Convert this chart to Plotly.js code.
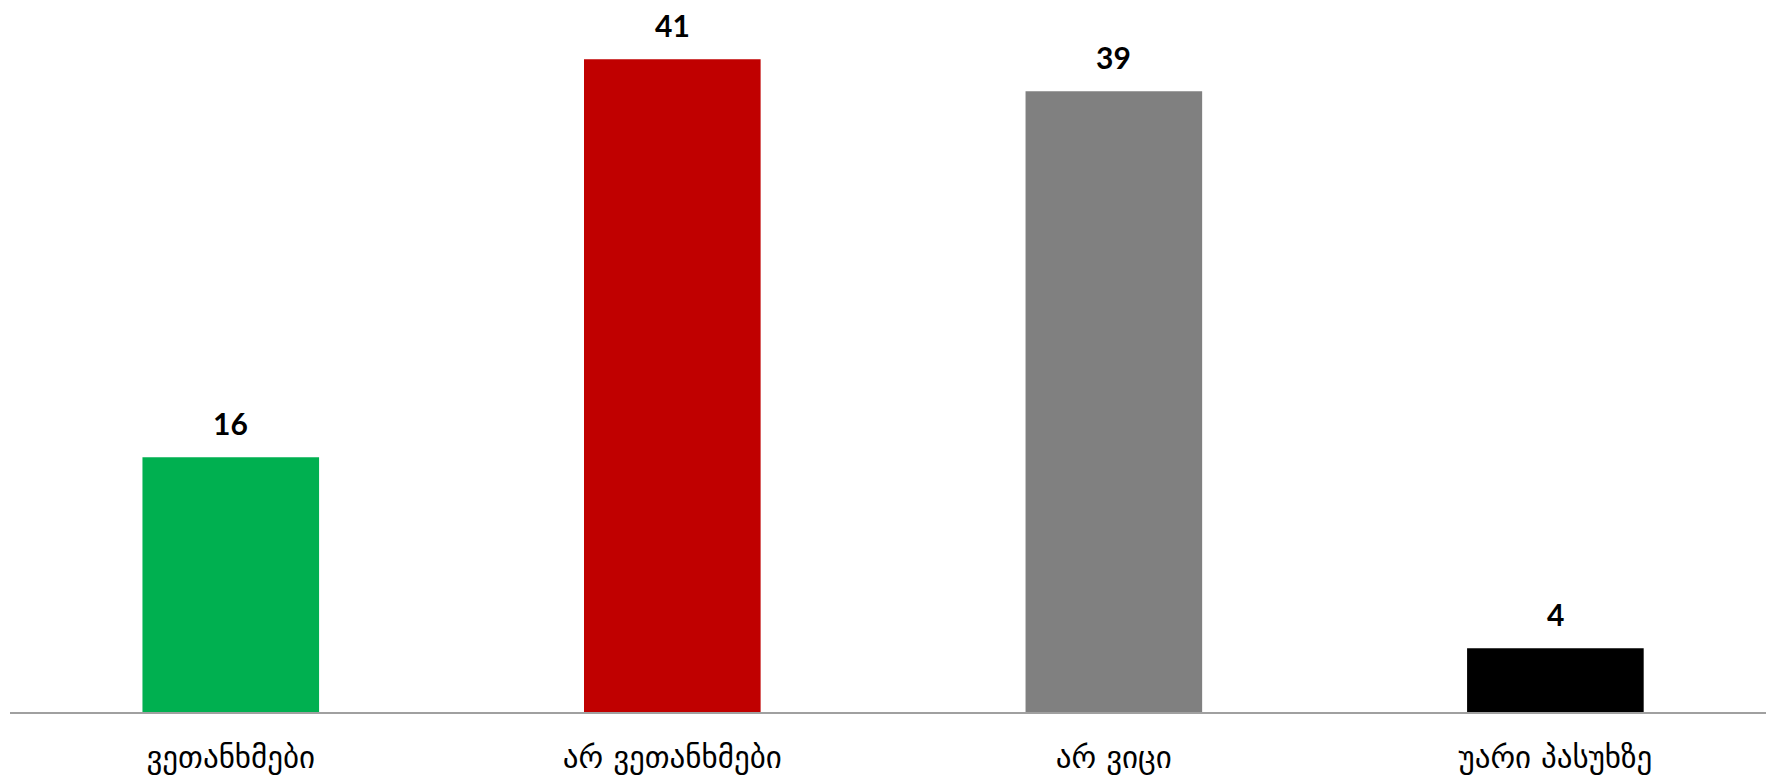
<!DOCTYPE html>
<html>
<head>
<meta charset="utf-8">
<script src="https://cdn.plot.ly/plotly-3.0.1.min.js"></script>
<style>html,body{margin:0;padding:0;background:#fff;}#chart{width:1766px;height:784px;}</style>
</head>
<body>
<div id="chart"></div>
<script>
const categories = ["ვეთანხმები", "არ ვეთანხმები", "არ ვიცი", "უარი პასუხზე"];
const values = [16, 41, 39, 4];
const barColors = ["#00b050", "#c00000", "#808080", "#000000"];

const trace = {
  type: "bar",
  x: categories,
  y: values,
  marker: {color: barColors},
  hoverinfo: "none"
};

const annotations = categories.map((c, i) => ({
  x: c, y: values[i], xref: "x", yref: "y",
  text: "<b>" + values[i] + "</b>",
  showarrow: false, yanchor: "bottom", yshift: 14,
  font: {family: "Lato, 'Open Sans', sans-serif", size: 30, color: "#000"}
}));

const layout = {
  width: 1766, height: 784,
  margin: {l: 10, r: 0, t: 20, b: 72},
  paper_bgcolor: "#fff", plot_bgcolor: "#fff",
  bargap: 0.6,
  showlegend: false,
  xaxis: {
    type: "category",
    range: [-0.5, 3.477],
    showline: true, linecolor: "#a0a0a0", linewidth: 1.5,
    ticks: "", showgrid: false, zeroline: false,
    ticklabelstandoff: 17,
    tickfont: {family: "'DejaVu Sans', sans-serif", size: 31, color: "#000"}
  },
  yaxis: {
    range: [0, 43.47],
    visible: false, showgrid: false, zeroline: false
  },
  annotations: annotations
};

Plotly.newPlot("chart", [trace], layout, {staticPlot: true, displayModeBar: false});
</script>
</body>
</html>
